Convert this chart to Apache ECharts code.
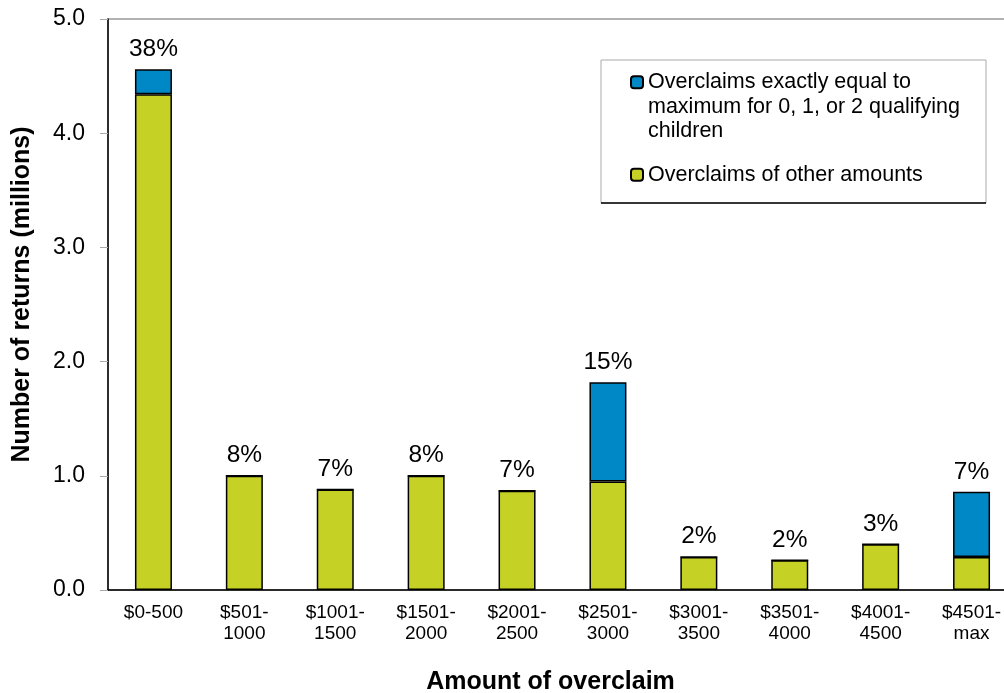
<!DOCTYPE html>
<html>
<head>
<meta charset="utf-8">
<script src="https://cdn.jsdelivr.net/npm/echarts@6/dist/echarts.min.js"></script>
<style>
  html, body { margin: 0; padding: 0; background: #fff; }
  #chart { width: 1004px; height: 693px; }
</style>
</head>
<body>
<div id="chart"></div>
<script>
// overclaim ranges on the x axis
var categories = ['$0-500', '$501-\n1000', '$1001-\n1500', '$1501-\n2000', '$2001-\n2500',
  '$2501-\n3000', '$3001-\n3500', '$3501-\n4000', '$4001-\n4500', '$4501-\nmax']
// millions of returns, overclaims of other amounts (bottom segment)
var otherAmounts = [4.34, 1.0, 0.88, 1.0, 0.87, 0.95, 0.29, 0.26, 0.40, 0.29]
// millions of returns, overclaims exactly equal to the maximum (top segment)
var exactMax = [0.22, 0, 0, 0, 0, 0.87, 0, 0, 0, 0.57]
// share of all overclaims, shown above each bar
var shares = ['38%', '8%', '7%', '8%', '7%', '15%', '2%', '2%', '3%', '7%']
var yTicks = [0, 1, 2, 3, 4, 5]

var nameExact = 'Overclaims exactly equal to\nmaximum for 0, 1, or 2 qualifying\nchildren'
var nameOther = 'Overclaims of other amounts'

var FONT = '"Liberation Sans", Arial, sans-serif'

var chart = echarts.init(document.getElementById('chart'))
chart.setOption({
  animation: false,
  textStyle: { fontFamily: FONT, color: '#000' },
  grid: {
    left: 108,
    top: 19,
    width: 909,   // last category runs past the right edge, as in the original
    height: 571,
    containLabel: false,
    outerBoundsMode: 'none',
    show: true,
    borderColor: '#999',
    borderWidth: 1.5
  },
  xAxis: {
    type: 'category',
    data: categories,
    name: 'Amount of overclaim',
    nameLocation: 'middle',
    nameGap: 80,
    nameTextStyle: {
      fontSize: 25, fontWeight: 'bold', fontFamily: FONT, color: '#000',
      padding: [0, 24, 0, 0]
    },
    axisLine: { lineStyle: { color: '#000', width: 1.5 } },
    axisTick: { length: 5, lineStyle: { color: '#999' } },
    axisLabel: { fontSize: 19, lineHeight: 21, margin: 12, color: '#000', fontFamily: FONT }
  },
  yAxis: {
    type: 'value',
    min: yTicks[0],
    max: yTicks[yTicks.length - 1],
    interval: 1,
    name: 'Number of returns (millions)',
    nameLocation: 'middle',
    nameGap: 73,
    nameTextStyle: {
      fontSize: 25, fontWeight: 'bold', fontFamily: FONT, color: '#000',
      padding: [0, 0, 0, 20]
    },
    axisLine: { show: true, lineStyle: { color: '#000', width: 1.5 } },
    axisTick: { show: true, length: 8, lineStyle: { color: '#aaa' } },
    splitLine: { show: false },
    axisLabel: {
      fontSize: 23,
      margin: 23,
      color: '#000',
      fontFamily: FONT,
      formatter: function (v) { return v.toFixed(1) }
    }
  },
  legend: {
    orient: 'vertical',
    left: 630,
    top: 21,
    padding: 0,
    itemWidth: 12,
    itemHeight: 12,
    itemGap: 19,
    selectedMode: false,
    textStyle: { fontSize: 21.5, lineHeight: 24.5, fontFamily: FONT, color: '#000' },
    // two blank lines above the wrapped name keep its first line level with the icon
    formatter: function (name) {
      return name === nameExact ? '\n\n' + name : name
    },
    data: [nameExact, nameOther]
  },
  graphic: [
    {
      type: 'rect',
      z: -1,
      shape: { x: 601, y: 60, width: 385, height: 143 },
      style: { fill: '#fff', stroke: '#aaa', lineWidth: 1 }
    },
    {
      type: 'line',
      shape: { x1: 601, y1: 203, x2: 986, y2: 203 },
      style: { stroke: '#000', lineWidth: 1.5 }
    }
  ],
  series: [
    {
      name: nameOther,
      type: 'bar',
      stack: 'total',
      barWidth: 37,
      itemStyle: { color: '#c5d125', borderColor: '#000', borderWidth: 1.5 },
      data: otherAmounts
    },
    {
      name: nameExact,
      type: 'bar',
      stack: 'total',
      barWidth: 37,
      itemStyle: { color: '#0088c6', borderColor: '#000', borderWidth: 1.5 },
      label: {
        show: true,
        position: 'top',
        distance: 7,
        fontSize: 24.5,
        color: '#000',
        fontFamily: FONT,
        formatter: function (p) { return shares[p.dataIndex] }
      },
      data: exactMax
    }
  ]
})
</script>
</body>
</html>
